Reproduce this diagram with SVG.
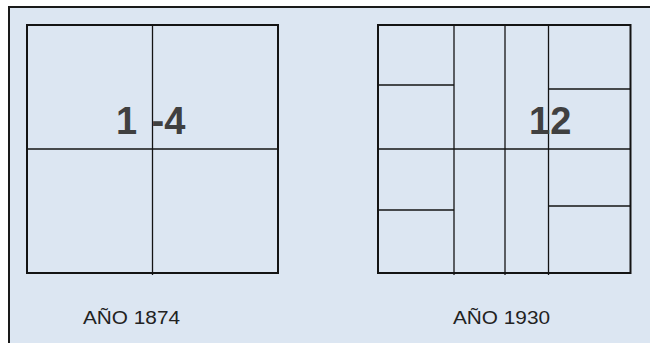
<svg xmlns="http://www.w3.org/2000/svg" width="650" height="343" viewBox="0 0 650 343">
<style>
.sq{fill:none;stroke:#141414;stroke-width:2}
.ln{stroke:#141414;stroke-width:1.3;fill:none}
.big{font-family:"Liberation Sans",Arial,sans-serif;font-weight:bold;font-size:38px;fill:#404040}
.lab{font-family:"Liberation Sans",Arial,sans-serif;font-size:18px;fill:#222}
</style>
<rect x="0" y="0" width="650" height="343" fill="#ffffff"/>
<rect id="frame" x="9" y="7" width="700" height="400" fill="#dce6f2" stroke="#1a1a1a" stroke-width="2"/>
<g id="plan1874">
<rect class="sq" x="27" y="25" width="251" height="248"/>
<g class="ln">
<line x1="152.5" y1="25" x2="152.5" y2="275"/>
<line x1="27" y1="149" x2="278" y2="149"/>
</g>
<text class="big" y="134"><tspan x="116">1</tspan> <tspan x="151.5">-4</tspan></text>
<text class="lab" x="83" y="324" textLength="97" lengthAdjust="spacingAndGlyphs">AÑO 1874</text>
</g>
<g id="plan1930">
<rect class="sq" x="378" y="25" width="252.5" height="248"/>
<g class="ln">
<line x1="454" y1="25" x2="454" y2="275"/>
<line x1="505" y1="25" x2="505" y2="275"/>
<line x1="548.5" y1="25" x2="548.5" y2="275"/>
<line x1="378" y1="149" x2="630.5" y2="149"/>
<line x1="378" y1="85" x2="454" y2="85"/>
<line x1="378" y1="210" x2="454" y2="210"/>
<line x1="548.5" y1="89" x2="630.5" y2="89"/>
<line x1="548.5" y1="206" x2="630.5" y2="206"/>
</g>
<text class="big" x="529" y="134">12</text>
<text class="lab" x="453" y="324" textLength="97" lengthAdjust="spacingAndGlyphs">AÑO 1930</text>
</g>
</svg>
